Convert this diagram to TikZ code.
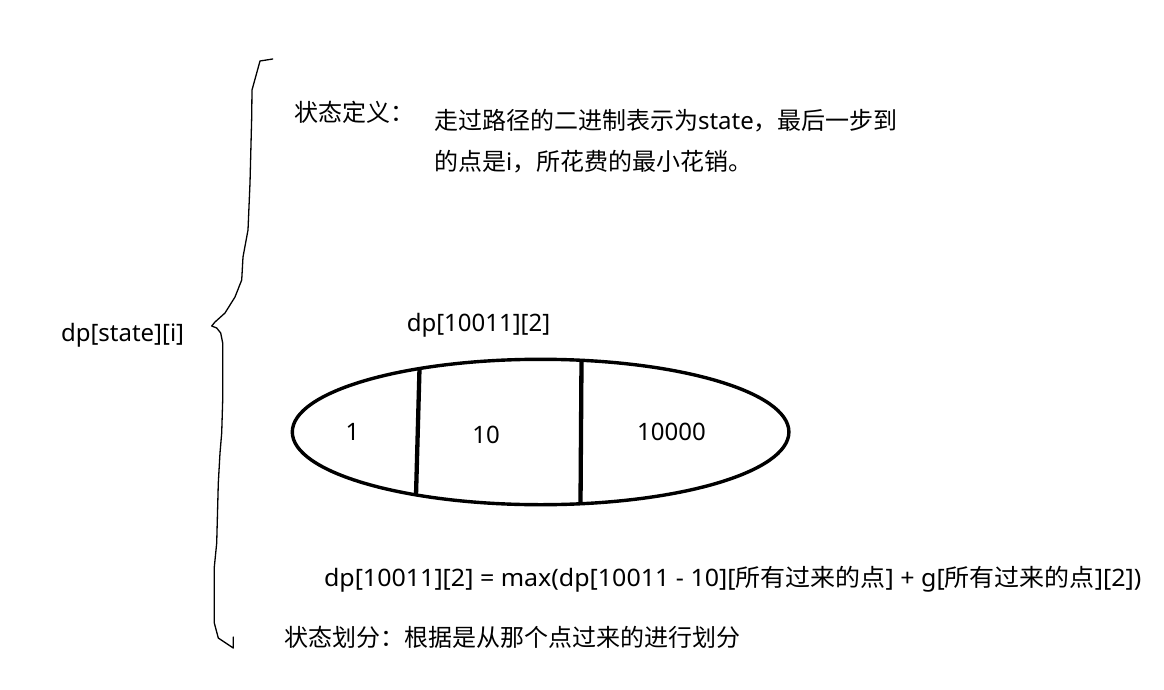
\documentclass[tikz,border=0pt]{standalone}
\usepackage{fontspec}
\setmainfont{Noto Sans}
\newfontfamily\cjk{Noto Sans CJK SC}
\usetikzlibrary{shapes.geometric}
\begin{document}
\begin{tikzpicture}[x=1pt,y=-1pt,
  txt/.style={inner sep=0pt, outer sep=0pt, font=\fontsize{24}{24}\selectfont},
  brace/.style={line width=1.3pt, line join=round, line cap=round},
  oval/.style={ellipse, draw, line width=3.4pt, inner sep=0pt, minimum width=496.6pt, minimum height=145.4pt},
  divider/.style={line width=4.3pt}]
\useasboundingbox (0,0) rectangle (1164,690);
% brace
\draw[brace] (272.7,59) -- (260,61) -- (256.7,73) -- (252,90) -- (251.7,117) -- (250,183) -- (248,230) -- (243,257) -- (241.7,280) -- (235,297) -- (225,313) -- (215,322) -- (211.7,326) -- (216.7,328) -- (220.7,333) -- (222.7,343) -- (222.7,400) -- (221.7,433) -- (220,453) -- (218.3,483) -- (216.7,543) -- (214.3,567) -- (214.3,623) -- (218.3,638) -- (233.3,648) -- (233.3,637);
% texts
\node[txt, anchor=base west] (deflabel) at (294,121.5) {{\cjk 状态定义：}};
\node[txt, anchor=base west] (def1) at (434,130) {{\cjk 走过路径的二进制表示为}state{\cjk ，最后一步到}};
\node[txt, anchor=base west] (def2) at (434,170.7) {{\cjk 的点是}i{\cjk ，所花费的最小花销。}};
\node[txt, anchor=base west] (dpstate) at (61,341) {dp[state][i]};
\node[txt, anchor=base] (dptop) at (478.5,331) {dp[10011][2]};
% oval
\node[oval] (E) at (540.6,432) {};
\coordinate (d1t) at (419.5,368.5);
\coordinate (d1b) at (416,495.5);
\coordinate (d2t) at (581.5,360.3);
\coordinate (d2b) at (580.5,503.7);
\draw[divider] (d1t) -- (d1b);
\draw[divider] (d2t) -- (d2b);
\node[txt, anchor=base] (one) at (352.5,440) {1};
\node[txt, anchor=base] (ten) at (486,443.6) {10};
\node[txt, anchor=base] (tenk) at (671.4,440) {10000};
\node[txt, anchor=base west] (formula) at (324,586.5) {\scalebox{1.042}[1]{dp[10011][2] = max(dp[10011 - 10][{\cjk 所有过来的点}] + g[{\cjk 所有过来的点}][2])}};
\node[txt, anchor=base west] (split) at (284,646.8) {{\cjk 状态划分：根据是从那个点过来的进行划分}};
\end{tikzpicture}
\end{document}
